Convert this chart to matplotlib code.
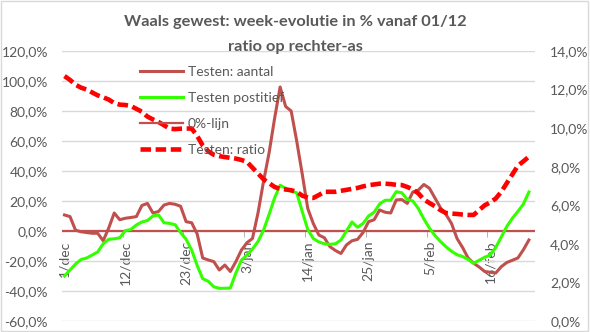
import matplotlib
matplotlib.use('Agg')
import matplotlib.pyplot as plt
import numpy as np
from matplotlib.ticker import FuncFormatter, FixedLocator
from matplotlib.lines import Line2D
import matplotlib.patches as patches

plt.rcParams['font.family'] = ['Lato', 'DejaVu Sans']

# week evolution (%), one value per day from 1/dec
aantal = [10.7, 9.6, 0.5, -0.5, -1.0, -1.5, -1.5, -6.5, 2.0, 12.0,
          7.5, 8.5, 9.0, 9.6, 17.0, 18.4, 12.0, 13.0, 17.3, 18.4,
          17.8, 16.5, 6.2, 5.5, -2.0, -18.0, -19.3, -20.4, -26.0, -22.7,
          -27.0, -20.4, -12.7, -7.8, -5.0, 12.0, 33.0, 52.0, 75.0, 96.0,
          83.0, 80.0, 60.0, 38.0, 15.0, 5.0, -2.7, -4.5, -10.4, -13.0,
          -15.0, -9.3, -6.5, -5.6, -1.0, 6.2, 7.5, 14.0, 12.5, 12.0,
          20.7, 21.0, 18.4, 26.0, 27.3, 31.0, 28.5, 22.0, 15.5, 11.0,
          5.0, -5.0, -11.0, -18.0, -21.5, -24.0, -27.0, -27.5, -28.0, -23.8,
          -21.0, -19.5, -18.0, -12.5, -6.0]

positief = [-30.0, -26.0, -22.0, -19.0, -18.0, -16.0, -14.0, -8.5, -5.5, -5.2,
            -4.5, 0.2, 1.0, 4.0, 6.0, 7.0, 10.0, 10.7, 5.5, 5.1,
            4.2, -1.0, -5.5, -12.7, -23.0, -31.8, -33.5, -37.2, -38.2, -38.2,
            -38.0, -28.0, -19.5, -16.0, -12.0, -7.0, 0.5, 11.0, 22.0, 30.5,
            28.5, 26.5, 25.5, 13.0, 1.0, -5.0, -7.3, -8.5, -8.9, -8.5,
            -6.0, 0.0, 6.0, 2.5, 5.0, 10.0, 12.5, 18.0, 20.5, 20.5,
            26.2, 25.5, 21.0, 20.0, 15.0, 8.0, 2.0, -3.0, -7.0, -10.5,
            -13.5, -15.8, -17.0, -19.0, -21.5, -19.5, -17.5, -16.0, -11.0, -4.0,
            3.0, 8.5, 13.0, 18.0, 26.0]

# ratio (%), right axis
ratio = [12.7, 12.5, 12.25, 12.1, 12.0, 11.85, 11.7, 11.6, 11.48, 11.3,
         11.22, 11.2, 11.15, 11.0, 10.85, 10.6, 10.45, 10.32, 10.15, 9.97,
         9.95, 9.97, 9.98, 9.98, 9.6, 9.1, 8.8, 8.62, 8.55, 8.5,
         8.46, 8.42, 8.35, 8.25, 7.95, 7.65, 7.35, 7.15, 6.95, 6.85,
         6.82, 6.78, 6.7, 6.5, 6.4, 6.38, 6.53, 6.7, 6.7, 6.7,
         6.75, 6.8, 6.85, 6.9, 6.98, 7.04, 7.08, 7.12, 7.12, 7.1,
         7.06, 7.05, 6.95, 6.82, 6.62, 6.3, 6.12, 5.95, 5.75, 5.6,
         5.57, 5.55, 5.52, 5.5, 5.5, 5.75, 6.0, 6.15, 6.35, 6.7,
         7.15, 7.6, 8.05, 8.28, 8.52]

tick_labels = ['1/dec', '12/dec', '23/dec', '3/jan', '14/jan', '25/jan', '5/feb', '16/feb']
tick_pos = [0, 11, 22, 33, 44, 55, 66, 77]

brown = '#C0504D'
green = '#33FF00'
red = '#FF0000'
grey_txt = '#595959'
grid_col = '#D9D9D9'

fig = plt.figure(figsize=(5.9, 3.32), dpi=100)
ax = fig.add_axes([62/590, 1-321/332, (535-62)/590, 270/332])
ax2 = ax.twinx()

x = np.arange(len(aantal))
ax.plot(x, aantal, color=brown, lw=2.2, zorder=3)
ax.plot(x, positief, color=green, lw=2.2, zorder=3)
ax.axhline(0, color=brown, lw=1.6, zorder=2)
ax2.plot(x, ratio, color=red, lw=3.3, dashes=(2.3, 1.0), zorder=4)

ax.set_xlim(-0.45, 85.1)
ax.set_ylim(-60, 120)
ax.set_yticks(np.arange(-60, 121, 20))
ax2.set_ylim(0, 14)
ax2.set_yticks(np.arange(0, 15, 2))

ax.yaxis.set_major_formatter(FuncFormatter(lambda v, p: ('%.1f%%' % v).replace('.', ',')))
ax2.yaxis.set_major_formatter(FuncFormatter(lambda v, p: ('%.1f%%' % v).replace('.', ',')))

ax.grid(True, axis='y', color=grid_col, lw=1)
ax.set_axisbelow(True)
for a in (ax, ax2):
    for s in a.spines.values():
        s.set_visible(False)

ax.spines['bottom'].set_position(('data', 0))
ax.set_xticks(tick_pos)
ax.set_xticklabels(tick_labels, rotation=90, va='top', ha='center')
ax.xaxis.set_minor_locator(FixedLocator([p - 0.5 for p in tick_pos]))
ax.tick_params(axis='x', which='major', length=0, pad=7, labelsize=10, labelcolor=grey_txt)
ax.tick_params(axis='x', which='minor', length=4, color='#A6A6A6', direction='out')
ax.tick_params(axis='y', length=0, pad=10, labelsize=10, labelcolor=grey_txt)
ax2.tick_params(axis='y', length=0, pad=11, labelsize=10, labelcolor=grey_txt)

fig.text(0.5, 1-22/332, 'Waals gewest: week-evolutie in % vanaf 01/12', ha='center', va='center',
         fontsize=11.8, fontweight='bold', color=grey_txt)
fig.text(0.5, 1-47/332, 'ratio op rechter-as', ha='center', va='center',
         fontsize=11.8, fontweight='bold', color=grey_txt)

handles = [Line2D([], [], color=brown, lw=2.2),
           Line2D([], [], color=green, lw=2.2),
           Line2D([], [], color=brown, lw=1.6),
           Line2D([], [], color=red, lw=3.3, dashes=(2.3, 1.0))]
names = ['Testen: aantal', 'Testen postitief', '0%-lijn', 'Testen: ratio']
leg = ax2.legend(handles, names, loc='upper left', bbox_to_anchor=(72/473, 1-9/270),
                 frameon=False, fontsize=10, labelcolor=grey_txt, handlelength=3.1,
                 handletextpad=0.36, labelspacing=1.02, borderaxespad=0)
leg.set_zorder(10)

fig.add_artist(patches.Rectangle((0.002, 0.003), 0.995, 0.993, transform=fig.transFigure,
                                 fill=False, edgecolor=grid_col, lw=1))

fig.savefig('out.png', dpi=100)
